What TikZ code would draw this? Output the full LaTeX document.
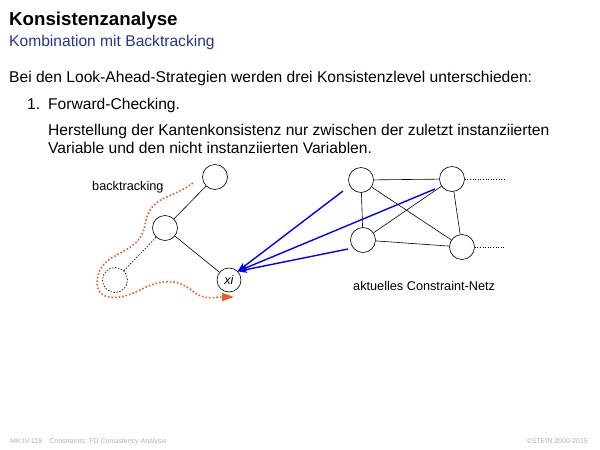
\documentclass[tikz,border=0pt]{standalone}
\usepackage{fontspec}
\setmainfont{Liberation Sans}
\usetikzlibrary{arrows.meta,positioning}
\definecolor{subblue}{RGB}{35,55,140}
\definecolor{btorange}{RGB}{240,90,40}
\definecolor{footgray}{RGB}{175,175,175}
\begin{document}
\begin{tikzpicture}[x=1pt,y=-1pt, >=Stealth,
  var/.style={draw,circle,minimum size=25pt,inner sep=0pt,line width=0.6pt},
  txt/.style={anchor=base west,inner sep=0pt,font=\fontsize{15.6}{18}\selectfont},
  small/.style={anchor=base west,inner sep=0pt,font=\fontsize{12.7}{15}\selectfont},
  foot/.style={inner sep=0pt,font=\fontsize{7}{8}\selectfont,text=footgray},
  edge/.style={line width=0.6pt},
  prop/.style={->,draw=blue,line width=1.4pt}]
\useasboundingbox (0,0) rectangle (600,450);
% heading
\node[txt,font=\fontsize{18.7}{22}\selectfont\bfseries] (title) at (9,25) {Konsistenzanalyse};
\node[txt,text=subblue] (sub) at (9,46) {Kombination mit Backtracking};
\node[txt] (intro) at (9,82) {Bei den Look-Ahead-Strategien werden drei Konsistenzlevel unterschieden:};
\node[txt] (num) at (27,109) {1.};
\node[txt] (fc) at (48,109) {Forward-Checking.};
\node[txt] (l1) at (48,135) {Herstellung der Kantenkonsistenz nur zwischen der zuletzt instanziierten};
\node[txt] (l2) at (48,153) {Variable und den nicht instanziierten Variablen.};
% search tree
\node[var] (t1) at (215,177) {};
\node[var] (t2) at (165,228) {};
\node[var,dash pattern=on 1.5pt off 1.5pt] (t3) at (115,280) {};
\node[var,minimum size=24pt,font=\fontsize{12.7}{15}\selectfont] (xi) at (229,280) {\textit{xi}};
\draw[edge] (t1) -- (t2);
\draw[edge] (t2) -- (xi);
\draw[edge,dash pattern=on 1.5pt off 1.5pt] (t2) -- (t3);
\node[small] (bt) at (92,190) {backtracking};
\coordinate (bs) at (193,183);
\coordinate (be) at (234,297);
\draw[btorange,line width=1.6pt,dotted,-{Triangle[length=12pt,width=8pt]}]
  (bs) .. controls (170,200) and (150,195) .. (145,225)
  .. controls (140,255) and (105,250) .. (98,275)
  .. controls (92,300) and (115,303) .. (140,290)
  .. controls (165,277) and (180,280) .. (195,293)
  .. controls (205,300) and (215,297) .. (be);
% constraint net
\node[var] (n1) at (361,180) {};
\node[var] (n2) at (452,179) {};
\node[var] (n3) at (363,240) {};
\node[var] (n4) at (462,247) {};
\foreach \a/\b in {n1/n2,n1/n3,n1/n4,n2/n3,n2/n4,n3/n4}
  \draw[edge] (\a) -- (\b);
\coordinate (d2) at (505,179);
\coordinate (d4) at (505,247);
\draw[edge,dotted] (n2) -- (d2);
\draw[edge,dotted] (n4) -- (d4);
\node[small] (net) at (353,290) {aktuelles Constraint-Netz};
% propagation
\coordinate (p1) at (343,191);
\coordinate (p2) at (435,189);
\coordinate (p3) at (348,249);
\foreach \p in {p1,p2,p3}
  \draw[prop] (\p) -- (xi.north east);
% footer
\node[foot,anchor=base west] (f1) at (10,443) {MK:IV-119\quad Constraints: FD Consistency Analysis};
\node[foot,anchor=base east] (f2) at (588,443) {©STEIN 2000-2015};
\end{tikzpicture}
\end{document}
